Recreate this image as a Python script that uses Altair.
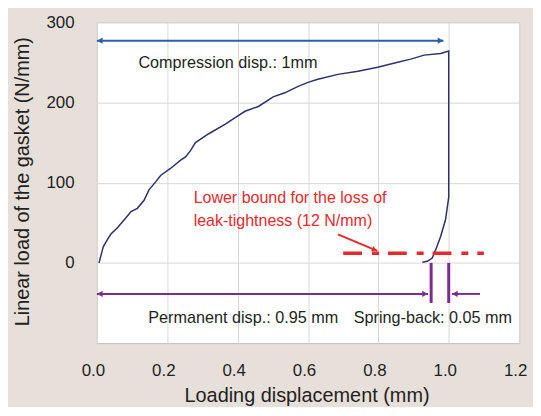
import altair as alt
import pandas as pd

# ---- data ----
curve_x = [0.006, 0.012, 0.018, 0.031, 0.040, 0.059, 0.082, 0.097, 0.115, 0.134,
           0.148, 0.167, 0.181, 0.210, 0.238, 0.252, 0.266, 0.280, 0.318, 0.365,
           0.393, 0.421, 0.459, 0.501, 0.534, 0.572, 0.600, 0.628, 0.685, 0.742,
           0.798, 0.855, 0.892, 0.930, 0.977, 1.000,
           1.000, 0.991, 0.977, 0.963, 0.953, 0.939, 0.925]
curve_y = [0, 10, 20, 30, 36, 44, 56, 64, 68, 78,
           91, 101, 109, 118, 128, 132, 140, 150, 161, 173,
           181, 189, 195, 207, 212, 220, 225, 229, 235, 239,
           244, 250, 254, 259, 261, 264,
           82, 54, 33, 16.5, 6, 2, 0.7]

x_ticks = [0.0, 0.2, 0.4, 0.6, 0.8, 1.0, 1.2]
y_ticks = [0, 100, 200, 300]

# annotation values (data units)
compression_x = [0.0, 0.985]
compression_y = 277
threshold_x = [0.7, 1.1]
threshold_y = 12
pointer_x = [0.685, 0.797]
pointer_y = [35.5, 14.9]
permanent_x = [0.0, 0.941]
springback_x = [1.009, 1.089]
dim_y = -38.7
marker_x = [0.95, 1.0]
marker_y = [0, -50]

text_labels = ["Compression disp.: 1mm", "Permanent disp.: 0.95 mm", "Spring-back: 0.05 mm"]
text_x = [0.118, 0.146, 0.730]
text_y = [249.5, -69.3, -69.3]
red_labels = ["Lower bound for the loss of", "leak-tightness (12 N/mm)"]
red_x = [0.275, 0.275]
red_y = [81.2, 52.4]

FONT = "Liberation Sans, Arial, sans-serif"
NAVY = "#2D3168"
BLUE = "#2F5DA8"
RED = "#E52A2E"
PURPLE = "#7B2D8E"
DARK = "#231F20"

xs = alt.Scale(domain=[0, 1.2], nice=False, zero=False)
ys = alt.Scale(domain=[-100, 300], nice=False, zero=False)

curve_df = pd.DataFrame({"x": curve_x, "y": curve_y, "o": list(range(len(curve_x)))})

curve = alt.Chart(curve_df).mark_line(color=NAVY, strokeWidth=1.5).encode(
    x=alt.X("x:Q", scale=xs,
            axis=alt.Axis(values=x_ticks, format=".1f", title="Loading displacement (mm)",
                          labelFlush=False, labelOffset=-4,
                          titleX=211, titleY=52.7, titleBaseline="middle")),
    y=alt.Y("y:Q", scale=ys,
            axis=alt.Axis(values=y_ticks, format="d", title="Linear load of the gasket (N/mm)",
                          labelFlush=False,
                          titleX=-75, titleY=160, titleAngle=270, titleBaseline="middle")),
    order="o:Q",
)

def hrule(x_pair, y_val, color, width, dash=None):
    df = pd.DataFrame({"x": [x_pair[0]], "x2": [x_pair[1]], "y": [y_val]})
    kw = dict(color=color, strokeWidth=width)
    if dash is not None:
        kw["strokeDash"] = dash
    return alt.Chart(df).mark_rule(**kw).encode(
        x=alt.X("x:Q", scale=xs), x2="x2:Q", y=alt.Y("y:Q", scale=ys))

def head(x_val, y_val, shape, color, size, xoff=0, yoff=0, angle=0):
    df = pd.DataFrame({"x": [x_val], "y": [y_val]})
    return alt.Chart(df).mark_point(shape=shape, filled=True, color=color, size=size,
                                    opacity=1, xOffset=xoff, yOffset=yoff, angle=angle,
                                    strokeWidth=0).encode(
        x=alt.X("x:Q", scale=xs), y=alt.Y("y:Q", scale=ys))

blue_line = hrule(compression_x, compression_y, BLUE, 2)
blue_l = head(compression_x[0], compression_y, "triangle-left", BLUE, 40, xoff=3)
blue_r = head(compression_x[1], compression_y, "triangle-right", BLUE, 40, xoff=-3)

red_dash = hrule(threshold_x, threshold_y, RED, 3.5, dash=[19, 10, 7, 9])

ptr_df = pd.DataFrame({"x": pointer_x, "y": pointer_y, "o": [0, 1]})
pointer = alt.Chart(ptr_df).mark_line(color=RED, strokeWidth=2).encode(
    x=alt.X("x:Q", scale=xs), y=alt.Y("y:Q", scale=ys), order="o:Q")
pointer_head = head(pointer_x[1], pointer_y[1], "triangle-right", RED, 35,
                    xoff=-2.8, yoff=-1.2, angle=23)

perm_line = hrule(permanent_x, dim_y, PURPLE, 2)
perm_l = head(permanent_x[0], dim_y, "triangle-left", PURPLE, 40, xoff=3)
perm_r = head(permanent_x[1], dim_y, "triangle-right", PURPLE, 40, xoff=-3)
spring_line = hrule(springback_x, dim_y, PURPLE, 2)
spring_h = head(springback_x[0], dim_y, "triangle-left", PURPLE, 40, xoff=3)

mk_df = pd.DataFrame({"x": marker_x, "y": [marker_y[0]] * 2, "y2": [marker_y[1]] * 2})
markers = alt.Chart(mk_df).mark_rule(color=PURPLE, strokeWidth=3).encode(
    x=alt.X("x:Q", scale=xs), y=alt.Y("y:Q", scale=ys), y2="y2:Q")

txt_df = pd.DataFrame({"x": text_x, "y": text_y, "t": text_labels})
texts = alt.Chart(txt_df).mark_text(align="left", baseline="middle", font=FONT,
                                    fontSize=16.3, color=DARK).encode(
    x=alt.X("x:Q", scale=xs), y=alt.Y("y:Q", scale=ys), text="t:N")

red_df = pd.DataFrame({"x": red_x, "y": red_y, "t": red_labels})
red_texts = alt.Chart(red_df).mark_text(align="left", baseline="middle", font=FONT,
                                        fontSize=16.1, color=RED).encode(
    x=alt.X("x:Q", scale=xs), y=alt.Y("y:Q", scale=ys), text="t:N")

chart = alt.layer(
    curve, blue_line, blue_l, blue_r, red_dash, pointer, pointer_head,
    perm_line, perm_l, perm_r, spring_line, spring_h, markers, texts, red_texts,
).properties(
    width=425, height=323,
    autosize=alt.AutoSizeParams(type="none"),
    padding={"left": 89.5, "top": 13, "right": 14, "bottom": 63},
    background="#E7DFD9",
).configure_view(
    fill="white", stroke="#BFBFBF", strokeWidth=1,
).configure_axis(
    labelFont=FONT, titleFont=FONT, labelColor=DARK, titleColor=DARK,
    labelFontSize=17, titleFontSize=20, titleFontWeight="normal",
    grid=True, gridColor="#D8D8D8", gridWidth=1, domain=False, ticks=False, tickSize=0,
).configure_axisX(
    labelPadding=20,
).configure_axisY(
    labelPadding=23,
)

chart.save("out.html", embed_options={"renderer": "svg", "actions": False})
